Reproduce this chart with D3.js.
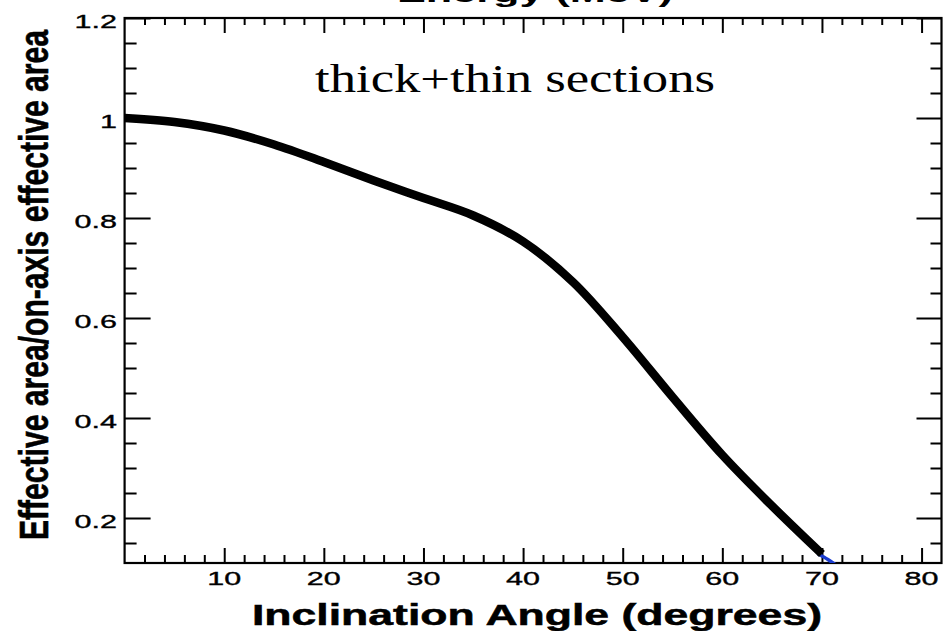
<!DOCTYPE html>
<html>
<head>
<meta charset="utf-8">
<script src="https://cdn.jsdelivr.net/npm/d3@7"></script>
<style>
  html, body { margin: 0; padding: 0; background: #fff; }
  svg { display: block; }
</style>
</head>
<body>
<svg id="chart" width="944" height="631"></svg>
<script>
// ---- data ----
const angles = [0, 5, 10, 15, 20, 25, 30, 35, 40, 45, 50, 55, 60, 65, 70];
const ratio  = [1.000, 0.992, 0.975, 0.947, 0.912, 0.875, 0.840, 0.805, 0.753, 0.672, 0.562, 0.442, 0.326, 0.224, 0.128];
const blueAngles = [69.6, 70.6, 71.4];
const blueRatio  = [0.128, 0.117, 0.106];
const xTickValues = [10, 20, 30, 40, 50, 60, 70, 80];
const xTickLabels = ["10", "20", "30", "40", "50", "60", "70", "80"];
const yTickValues = [0.2, 0.4, 0.6, 0.8, 1.0, 1.2];
const yTickLabels = ["0.2", "0.4", "0.6", "0.8", "1", "1.2"];
const titleText = "Energy (MeV)";
const xTitle = "Inclination Angle (degrees)";
const yTitle = "Effective area/on-axis effective area";
const note = "thick+thin sections";

// ---- layout ----
const L = 124.6, R = 941.5, T = 18, B = 563;
const svg = d3.select("#chart");
const x = d3.scaleLinear().domain([0, 82]).range([L, R]);
const y = d3.scaleLinear().domain([0.11, 1.2]).range([B, T]);

const xMinor = d3.range(2, 82, 2).filter(v => v % 10 !== 0);
const yMinor = d3.range(0.15, 1.2, 0.05).map(v => +v.toFixed(2)).filter(v => Math.round(v * 100) % 20 !== 0);

function styleAxis(g) {
  g.select(".domain").remove();
  g.selectAll(".tick line").attr("stroke", "#000").attr("stroke-width", 2);
  g.selectAll(".tick text").remove();
}

// bottom axis (ticks inward = up)
svg.append("g").attr("transform", `translate(0,${B})`)
  .call(d3.axisBottom(x).tickValues(xTickValues).tickSize(-15).tickFormat("")).call(styleAxis);
svg.append("g").attr("transform", `translate(0,${B})`)
  .call(d3.axisBottom(x).tickValues(xMinor).tickSize(-8).tickFormat("")).call(styleAxis);
// top axis (ticks inward = down)
svg.append("g").attr("transform", `translate(0,${T})`)
  .call(d3.axisTop(x).tickValues(xTickValues).tickSize(-15).tickFormat("")).call(styleAxis);
svg.append("g").attr("transform", `translate(0,${T})`)
  .call(d3.axisTop(x).tickValues(xMinor).tickSize(-7).tickFormat("")).call(styleAxis);
// left axis (ticks inward = right)
svg.append("g").attr("transform", `translate(${L},0)`)
  .call(d3.axisLeft(y).tickValues(yTickValues).tickSize(-26).tickFormat("")).call(styleAxis);
svg.append("g").attr("transform", `translate(${L},0)`)
  .call(d3.axisLeft(y).tickValues(yMinor).tickSize(-12).tickFormat("")).call(styleAxis);
// right axis (ticks inward = left)
svg.append("g").attr("transform", `translate(${R},0)`)
  .call(d3.axisRight(y).tickValues(yTickValues).tickSize(-25).tickFormat("")).call(styleAxis);
svg.append("g").attr("transform", `translate(${R},0)`)
  .call(d3.axisRight(y).tickValues(yMinor).tickSize(-11).tickFormat("")).call(styleAxis);

// frame
svg.append("rect").attr("x", L).attr("y", T).attr("width", R - L).attr("height", B - T)
  .attr("fill", "none").attr("stroke", "#000").attr("stroke-width", 2.2);

// clip
svg.append("clipPath").attr("id", "plotclip").append("rect")
  .attr("x", L).attr("y", T).attr("width", R - L).attr("height", B - T);

// blue short segment
const blueLine = d3.line().x(d => x(d[0])).y(d => y(d[1])).curve(d3.curveMonotoneX);
svg.append("path").attr("clip-path", "url(#plotclip)")
  .datum(blueAngles.map((a, i) => [a, blueRatio[i]]))
  .attr("d", blueLine).attr("fill", "none").attr("stroke", "#1a3ccf").attr("stroke-width", 3.5);

// main curve
const line = d3.line().x(d => x(d[0])).y(d => y(d[1])).curve(d3.curveCatmullRom.alpha(0.5));
svg.append("path").attr("clip-path", "url(#plotclip)")
  .datum(angles.map((a, i) => [a, ratio[i]]))
  .attr("d", line).attr("fill", "none").attr("stroke", "#000")
  .attr("stroke-width", 8.5).attr("stroke-linejoin", "round").attr("stroke-linecap", "butt");

// tick labels
const sansFont = "'Liberation Sans', Arial, Helvetica, sans-serif";
svg.append("g").selectAll("text").data(xTickValues).join("text")
  .attr("transform", d => `translate(${x(d)},585) scale(1.65,1)`)
  .attr("text-anchor", "middle").attr("font-family", sansFont).attr("font-size", 18.5)
  .attr("fill", "#000").attr("stroke", "#000").attr("stroke-width", 0.35)
  .text((d, i) => xTickLabels[i]);
svg.append("g").selectAll("text").data(yTickValues).join("text")
  .attr("transform", d => `translate(117,${y(d) + 10}) scale(1.65,1)`)
  .attr("text-anchor", "end").attr("font-family", sansFont).attr("font-size", 18.5)
  .attr("fill", "#000").attr("stroke", "#000").attr("stroke-width", 0.35)
  .text((d, i) => yTickLabels[i]);

// axis titles
svg.append("text").attr("x", 252).attr("y", 625)
  .attr("font-family", sansFont).attr("font-weight", "bold").attr("font-size", 29)
  .attr("textLength", 570).attr("lengthAdjust", "spacingAndGlyphs")
  .attr("fill", "#000").attr("stroke", "#000").attr("stroke-width", 0.5).text(xTitle);

svg.append("text")
  .attr("transform", "translate(48,285) rotate(-90) scale(1,1.5)")
  .attr("text-anchor", "middle")
  .attr("font-family", sansFont).attr("font-weight", "bold").attr("font-size", 27)
  .attr("textLength", 510).attr("lengthAdjust", "spacingAndGlyphs")
  .attr("fill", "#000").attr("stroke", "#000").attr("stroke-width", 0.4).text(yTitle);

// top title (mostly cut off, as in the reference)
svg.append("text").attr("x", 397).attr("y", 2)
  .attr("font-family", sansFont).attr("font-weight", "bold").attr("font-size", 24)
  .attr("textLength", 276).attr("lengthAdjust", "spacingAndGlyphs")
  .attr("fill", "#000").text(titleText);

// annotation
svg.append("text").attr("x", 315).attr("y", 92)
  .attr("font-family", "'Liberation Serif', 'Times New Roman', serif").attr("font-size", 40)
  .attr("textLength", 400).attr("lengthAdjust", "spacingAndGlyphs")
  .attr("fill", "#000").text(note);
</script>
</body>
</html>
